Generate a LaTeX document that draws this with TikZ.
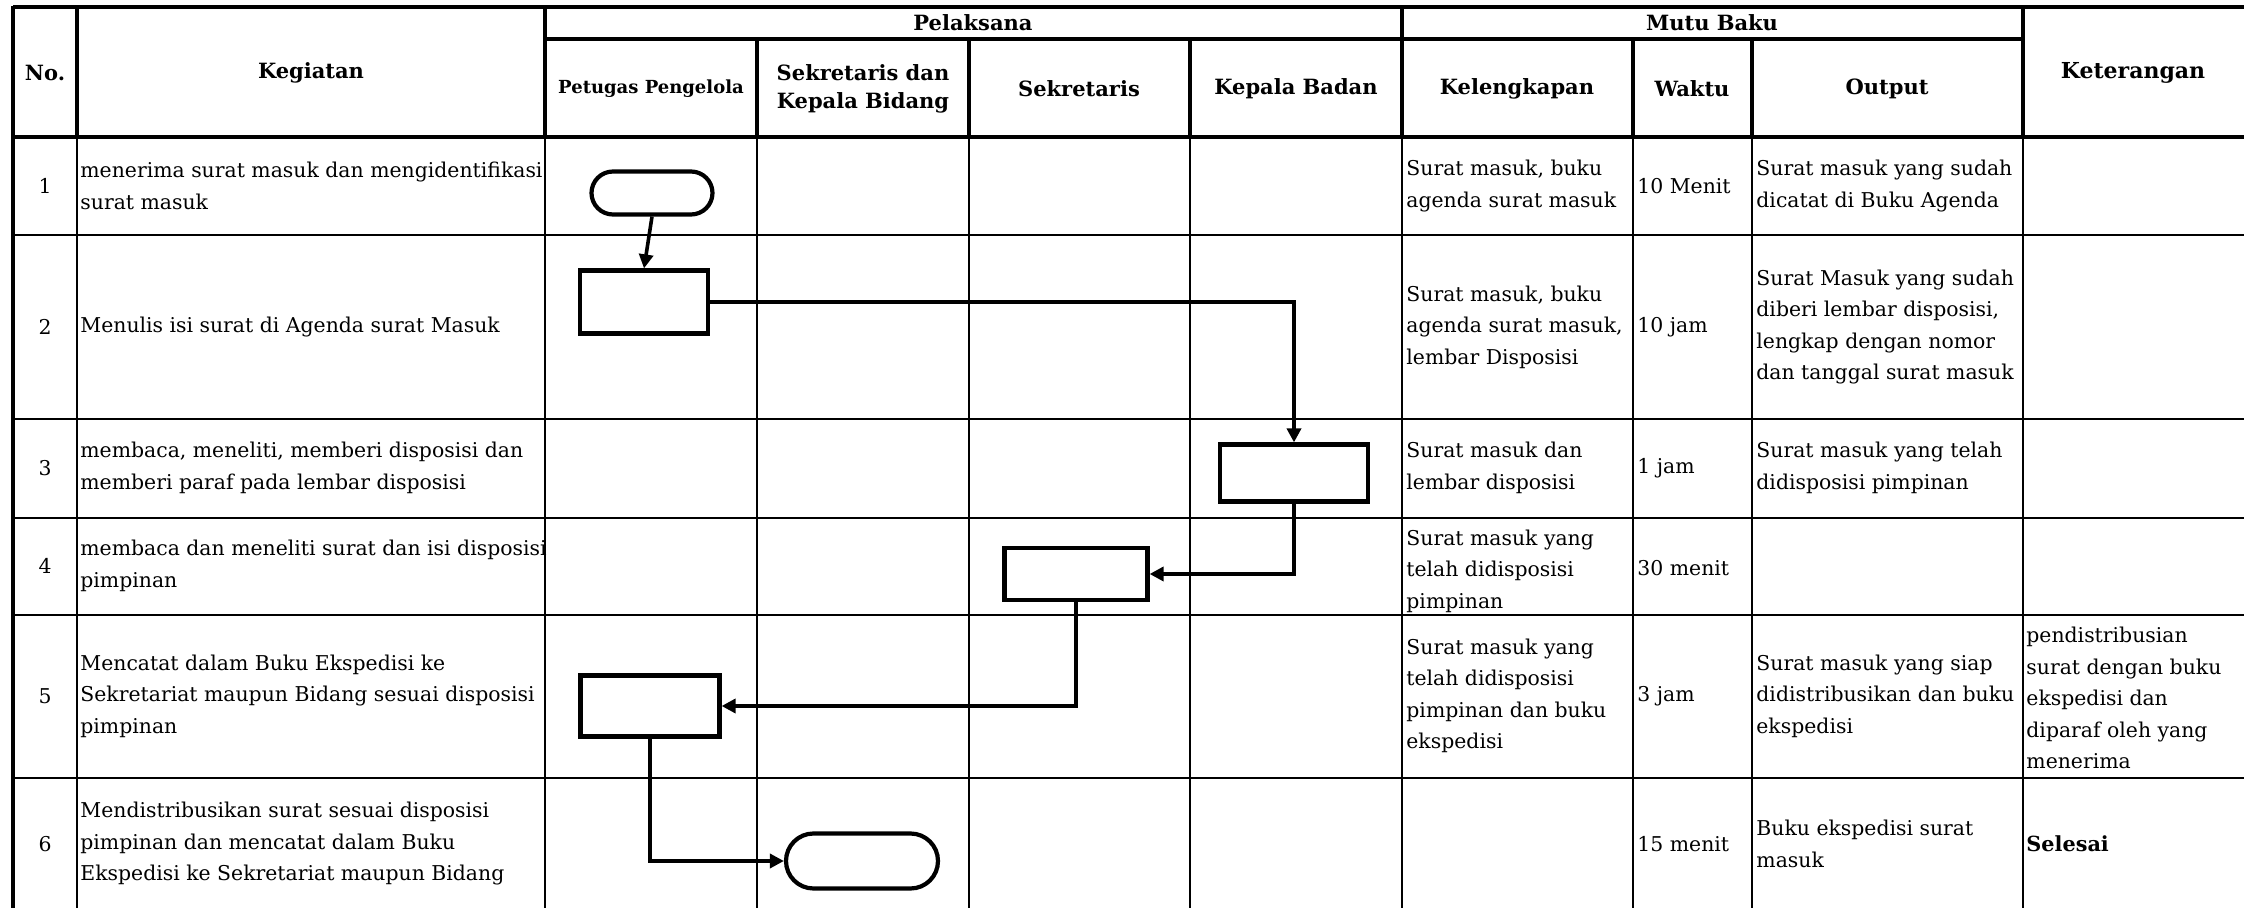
\documentclass[tikz,border=0pt]{standalone}
\usepackage{fontspec}
\setmainfont{DejaVu Serif}
\usetikzlibrary{arrows.meta,shapes.misc}
\begin{document}
\begin{tikzpicture}[x=0.5pt,y=-0.5pt,
  txt/.style={anchor=west,align=left,inner sep=0pt,font=\fontsize{10.2}{15.75}\selectfont},
  hd/.style={align=center,inner sep=0pt,font=\fontsize{10.5}{14}\selectfont\bfseries},
  num/.style={inner sep=0pt,font=\fontsize{10.2}{15.75}\selectfont},
  headrule/.style={line width=2.2pt},
  bodyrule/.style={line width=1.4pt},
  proc/.style={draw,line width=2.1pt,rectangle,inner sep=0pt},
  term/.style={draw,line width=2.1pt,rounded rectangle,inner sep=0pt},
  flow/.style={line width=1.8pt,-{Triangle[length=7pt,width=7pt]}},
]
\useasboundingbox (0,0) rectangle (2244,908);
% ---------- table rules ----------
\draw[headrule] (13,7) -- (2244,7);
\draw[headrule] (545,39) -- (2023,39);
\draw[headrule] (13,137) -- (2244,137);
\draw[headrule] (13,6) -- (13,908);
\foreach \x in {77,545,1402,2023} \draw[headrule] (\x,7) -- (\x,137);
\foreach \x in {757,969,1190,1633,1752} \draw[headrule] (\x,39) -- (\x,137);
\foreach \x in {77,545,757,969,1190,1402,1633,1752,2023} \draw[bodyrule] (\x,137) -- (\x,908);
\foreach \y in {235,419,518,615,778} \draw[bodyrule] (13,\y) -- (2244,\y);
% ---------- headers ----------
\node[hd] (hno) at (45,73) {No.};
\node[hd] (hkeg) at (311,73) {Kegiatan};
\node[hd] (hpel) at (973,23) {Pelaksana};
\node[hd] (hmut) at (1712,23) {Mutu Baku};
\node[hd,font=\fontsize{11}{14}\selectfont\bfseries] (hket) at (2133,73) {Keterangan};
\node[hd,font=\fontsize{9}{12}\selectfont\bfseries] (hpet) at (651,89) {Petugas Pengelola};
\node[hd] (hskb) at (863,89) {Sekretaris dan\\Kepala Bidang};
\node[hd] (hsek) at (1079,89) {Sekretaris};
\node[hd] (hkep) at (1296,89) {Kepala Badan};
\node[hd] (hkel) at (1517,89) {Kelengkapan};
\node[hd] (hwak) at (1692,89) {Waktu};
\node[hd] (hout) at (1887,89) {Output};
% ---------- numbers ----------
\node[num] (n1) at (45,186) {1};
\node[num] (n2) at (45,327) {2};
\node[num] (n3) at (45,468) {3};
\node[num] (n4) at (45,566) {4};
\node[num] (n5) at (45,696) {5};
\node[num] (n6) at (45,844) {6};
% ---------- kegiatan ----------
\node[txt] (k1) at (80,186) {menerima surat masuk dan mengidentifikasi\\surat masuk};
\node[txt] (k2) at (80,327) {Menulis isi surat di Agenda surat Masuk};
\node[txt] (k3) at (80,468) {membaca, meneliti, memberi disposisi dan\\memberi paraf pada lembar disposisi};
\node[txt] (k4) at (80,566) {membaca dan meneliti surat dan isi disposisi\\pimpinan};
\node[txt] (k5) at (80,696) {Mencatat dalam Buku Ekspedisi ke\\Sekretariat maupun Bidang sesuai disposisi\\pimpinan};
\node[txt] (k6) at (80,844) {Mendistribusikan surat sesuai disposisi\\pimpinan dan mencatat dalam Buku\\Ekspedisi ke Sekretariat maupun Bidang};
% ---------- kelengkapan ----------
\node[txt] (l1) at (1406,186) {Surat masuk, buku\\agenda surat masuk};
\node[txt] (l2) at (1406,327) {Surat masuk, buku\\agenda surat masuk,\\lembar Disposisi};
\node[txt] (l3) at (1406,468) {Surat masuk dan\\lembar disposisi};
\node[txt] (l4) at (1406,571) {Surat masuk yang\\telah didisposisi\\pimpinan};
\node[txt] (l5) at (1406,696) {Surat masuk yang\\telah didisposisi\\pimpinan dan buku\\ekspedisi};
% ---------- waktu ----------
\node[txt] (w1) at (1637,186) {10 Menit};
\node[txt] (w2) at (1637,327) {10 jam};
\node[txt] (w3) at (1637,468) {1 jam};
\node[txt] (w4) at (1637,568) {30 menit};
\node[txt] (w5) at (1637,696) {3 jam};
\node[txt] (w6) at (1637,844) {15 menit};
% ---------- output ----------
\node[txt] (o1) at (1756,186) {Surat masuk yang sudah\\dicatat di Buku Agenda};
\node[txt] (o2) at (1756,327) {Surat Masuk yang sudah\\diberi lembar disposisi,\\lengkap dengan nomor\\dan tanggal surat masuk};
\node[txt] (o3) at (1756,468) {Surat masuk yang telah\\didisposisi pimpinan};
\node[txt] (o5) at (1756,696) {Surat masuk yang siap\\didistribusikan dan buku\\ekspedisi};
\node[txt] (o6) at (1756,844) {Buku ekspedisi surat\\masuk};
% ---------- keterangan ----------
\node[txt] (c5) at (2026,698) {pendistribusian\\surat dengan buku\\ekspedisi dan\\diparaf oleh yang\\menerima};
\node[txt,font=\fontsize{10.4}{15.75}\selectfont\bfseries] (c6) at (2026,844) {Selesai};
% ---------- flow shapes ----------
\node[term,minimum width=60.5pt,minimum height=21.5pt] (t1) at (652,193) {};
\node[proc,minimum width=64pt,minimum height=31.5pt] (b2) at (644,302) {};
\node[proc,minimum width=74pt,minimum height=28.5pt] (b3) at (1294,473) {};
\node[proc,minimum width=71.5pt,minimum height=26pt] (b4) at (1076,574) {};
\node[proc,minimum width=69.5pt,minimum height=30.5pt] (b5) at (650,706) {};
\node[term,minimum width=76pt,minimum height=27.5pt] (t6) at (862,861) {};
% ---------- connectors ----------
\draw[flow] (t1.south) -- (b2.north);
\draw[flow] (b2.east) -| (b3.north);
\draw[flow] (b3.south) |- (b4.east);
\draw[flow] (b4.south) |- (b5.east);
\draw[flow] (b5.south) |- (t6.west);
\end{tikzpicture}
\end{document}
